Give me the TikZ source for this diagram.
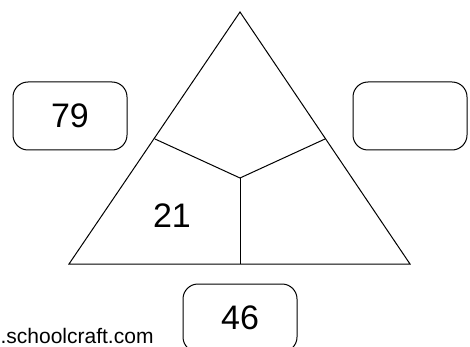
\documentclass[tikz,border=0pt]{standalone}
\usepackage{fontspec}
\setmainfont{Liberation Sans}
\usetikzlibrary{positioning}

\begin{document}
\begin{tikzpicture}[x=1pt,y=-1pt,line width=1pt,
 bx/.style={draw=black,rounded corners=15pt,minimum width=114pt,minimum height=68pt,
 inner sep=0pt,font=\fontsize{34}{34}\selectfont},
 num/.style={font=\fontsize{34}{34}\selectfont,inner sep=0pt}]
\useasboundingbox (0,0) rectangle (470,347);
\clip (0,0) rectangle (470,347);
% triangle
\coordinate (top) at (240,12);
\coordinate (bl) at (69,264);
\coordinate (br) at (410,264);
\coordinate (c) at (240,178);
\coordinate (ml) at (155,139);
\coordinate (mr) at (325,139);
\coordinate (mb) at (240,264);
\draw (top) -- (bl) -- (br) -- cycle;
\draw (ml) -- (c) -- (mr);
\draw (c) -- (mb);
\node[num] (n21) at (172,216) {21};
% boxes
\node[bx] (lb) at (70,116) {79};
\node[bx] (rb) at (410,116) {};
\node[bx] (bb) at (240,318) {46};
\node[anchor=base east,inner sep=0pt,font=\fontsize{21}{21}\selectfont] (web) at (154,343) {.schoolcraft.com};
\end{tikzpicture}
\end{document}
